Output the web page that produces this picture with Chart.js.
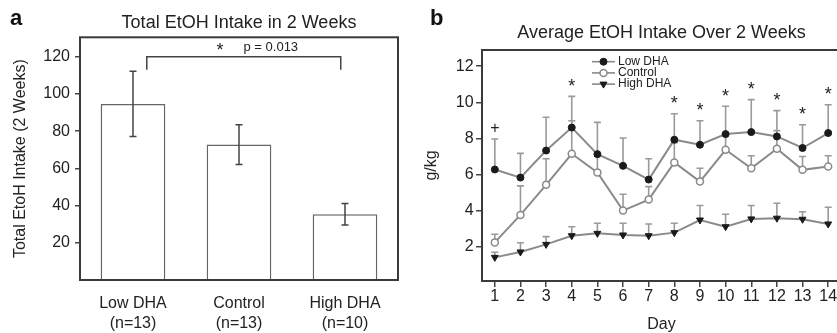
<!DOCTYPE html>
<html>
<head>
<meta charset="utf-8">
<script src="https://cdn.jsdelivr.net/npm/chart.js@4.4.1/dist/chart.umd.min.js"></script>
<style>
  html, body { margin: 0; padding: 0; background: #fff; overflow: hidden; }
  #wrap { position: relative; width: 837px; height: 333px; overflow: hidden; }
  canvas { position: absolute; top: 0; }
  #totalChart { left: 0; }
  #dailyChart { left: 420px; }
</style>
</head>
<body>
<div id="wrap">
  <canvas id="totalChart" width="420" height="333"></canvas>
  <canvas id="dailyChart" width="430" height="333"></canvas>
</div>
<script>
// panel a - total intake
const groups = [['Low DHA', '(n=13)'], ['Control', '(n=13)'], ['High DHA', '(n=10)']];
const totalIntake = [94.7, 72.8, 35.4];
const totalSem = [17.5, 10.7, 5.8];
const totalTicks = [20, 40, 60, 80, 100, 120];

// panel b - daily intake (g/kg)
const days = ['1', '2', '3', '4', '5', '6', '7', '8', '9', '10', '11', '12', '13', '14'];
const lowDha = [6.28, 5.83, 7.33, 8.6, 7.13, 6.48, 5.72, 7.93, 7.65, 8.24, 8.35, 8.11, 7.47, 8.3];
const lowDhaSem = [1.69, 1.34, 1.84, 1.73, 1.76, 1.54, 1.15, 1.44, 1.33, 1.54, 1.8, 1.43, 1.29, 1.57];
const control = [2.24, 3.76, 5.43, 7.15, 6.11, 4.0, 4.61, 6.67, 5.61, 7.37, 6.35, 7.43, 6.26, 6.44];
const controlSem = [0.45, 1.61, 1.44, 1.83, 0.9, 0.91, 0.72, 1.1, 0.74, 0.8, 0.69, 1.0, 0.74, 0.6];
const highDha = [1.41, 1.71, 2.13, 2.61, 2.74, 2.65, 2.61, 2.78, 3.48, 3.11, 3.54, 3.58, 3.52, 3.26];
const highDhaSem = [0.28, 0.51, 0.43, 0.5, 0.56, 0.65, 0.65, 0.52, 0.8, 0.69, 0.74, 0.83, 0.42, 0.93];
const dayMarks = ['+', '', '', '*', '', '', '', '*', '*', '*', '*', '*', '*', '*'];
const dailyTicks = [2, 4, 6, 8, 10, 12];

const pBracket = { from: 0.13, to: 1.96, level: 120, tip: 113, starAt: 0.82, label: 'p = 0.013', labelAt: 1.3 };

const FONT = "'Liberation Sans', Arial, sans-serif";
Chart.defaults.font.family = FONT;
Chart.defaults.color = '#222';
Chart.defaults.animation = false;

// box round the plot area
const frame = {
  id: 'frame',
  afterDatasetsDraw(chart) {
    const { ctx, chartArea: a } = chart;
    ctx.save();
    ctx.strokeStyle = '#3a3a3a';
    ctx.lineWidth = 2;
    ctx.strokeRect(a.left, a.top, a.right - a.left, a.bottom - a.top);
    ctx.restore();
  }
};

const panelLetter = {
  id: 'panelLetter',
  afterDraw(chart, args, opts) {
    const ctx = chart.ctx;
    ctx.save();
    ctx.font = 'bold 22px ' + FONT;
    ctx.fillStyle = '#111';
    ctx.textBaseline = 'alphabetic';
    ctx.fillText(opts.text, 10, 25);
    ctx.restore();
  }
};

const barErrors = {
  id: 'barErrors',
  afterDatasetsDraw(chart) {
    const { ctx, scales: { x, y } } = chart;
    ctx.save();
    ctx.strokeStyle = '#444';
    ctx.lineWidth = 1.5;
    totalIntake.forEach((v, i) => {
      const px = x.getPixelForValue(i);
      const hi = y.getPixelForValue(v + totalSem[i]);
      const lo = y.getPixelForValue(v - totalSem[i]);
      ctx.beginPath();
      ctx.moveTo(px, hi); ctx.lineTo(px, lo);
      ctx.moveTo(px - 3.5, hi); ctx.lineTo(px + 3.5, hi);
      ctx.moveTo(px - 3.5, lo); ctx.lineTo(px + 3.5, lo);
      ctx.stroke();
    });
    // significance bracket
    const x1 = x.getPixelForValue(pBracket.from), x2 = x.getPixelForValue(pBracket.to);
    const yl = y.getPixelForValue(pBracket.level), yt = y.getPixelForValue(pBracket.tip);
    ctx.beginPath();
    ctx.moveTo(x1, yt); ctx.lineTo(x1, yl); ctx.lineTo(x2, yl); ctx.lineTo(x2, yt);
    ctx.stroke();
    ctx.fillStyle = '#222';
    ctx.textAlign = 'center';
    ctx.textBaseline = 'middle';
    ctx.font = '18px ' + FONT;
    ctx.fillText('*', x.getPixelForValue(pBracket.starAt), yl - 6);
    ctx.font = '13px ' + FONT;
    ctx.fillText(pBracket.label, x.getPixelForValue(pBracket.labelAt), yl - 9.5);
    ctx.restore();
  }
};

const dailySem = [lowDhaSem, controlSem, highDhaSem];

const dayErrors = {
  id: 'dayErrors',
  beforeDatasetsDraw(chart) {
    const { ctx, scales: { x, y } } = chart;
    ctx.save();
    ctx.strokeStyle = '#9a9a9a';
    ctx.lineWidth = 1.6;
    chart.data.datasets.forEach((ds, k) => {
      ds.data.forEach((v, i) => {
        const px = x.getPixelForValue(i);
        const p0 = y.getPixelForValue(v);
        const p1 = y.getPixelForValue(v + dailySem[k][i]);
        ctx.beginPath();
        ctx.moveTo(px, p0); ctx.lineTo(px, p1);
        ctx.moveTo(px - 3.5, p1); ctx.lineTo(px + 3.5, p1);
        ctx.stroke();
      });
    });
    ctx.restore();
  },
  afterDatasetsDraw(chart) {
    const { ctx, scales: { x, y } } = chart;
    ctx.save();
    ctx.fillStyle = '#222';
    ctx.textAlign = 'center';
    ctx.textBaseline = 'middle';
    dayMarks.forEach((m, i) => {
      if (!m) return;
      ctx.font = (m === '+' ? '16px ' : '18px ') + FONT;
      ctx.fillText(m, x.getPixelForValue(i), y.getPixelForValue(lowDha[i] + lowDhaSem[i]) - (m === '+' ? 10 : 9.5));
    });
    ctx.restore();
  }
};

function drawMarker(ctx, ds, cx, cy) {
  ctx.save();
  ctx.fillStyle = ds.pointBackgroundColor;
  ctx.strokeStyle = ds.pointBorderColor;
  ctx.lineWidth = ds.pointBorderWidth;
  ctx.beginPath();
  if (ds.pointStyle === 'triangle') {
    const r = ds.pointRadius;
    ctx.moveTo(cx - r * 0.87, cy - r * 0.5);
    ctx.lineTo(cx + r * 0.87, cy - r * 0.5);
    ctx.lineTo(cx, cy + r);
    ctx.closePath();
  } else {
    ctx.arc(cx, cy, ds.pointRadius, 0, Math.PI * 2);
  }
  ctx.fill();
  ctx.stroke();
  ctx.restore();
}

const insideLegend = {
  id: 'insideLegend',
  afterDraw(chart) {
    const { ctx, chartArea: a } = chart;
    chart.data.datasets.forEach((ds, i) => {
      const yy = a.top + 11.7 + i * 11.2;
      const x0 = a.left + 110;
      ctx.save();
      ctx.strokeStyle = ds.borderColor;
      ctx.lineWidth = 1.6;
      ctx.beginPath();
      ctx.moveTo(x0, yy); ctx.lineTo(x0 + 23, yy);
      ctx.stroke();
      drawMarker(ctx, ds, x0 + 11.5, yy);
      ctx.fillStyle = '#222';
      ctx.font = '12px ' + FONT;
      ctx.textBaseline = 'middle';
      ctx.fillText(ds.label, x0 + 26, yy);
      ctx.restore();
    });
  }
};

new Chart(document.getElementById('totalChart'), {
  type: 'bar',
  data: {
    labels: groups,
    datasets: [{
      data: totalIntake,
      backgroundColor: '#fff',
      borderColor: '#666',
      borderWidth: 1.5,
      barPercentage: 1,
      categoryPercentage: 0.61
    }]
  },
  options: {
    responsive: false,
    devicePixelRatio: 1,
    layout: { padding: { left: 0, right: 22, top: 0, bottom: 0 } },
    plugins: {
      legend: { display: false },
      tooltip: { enabled: false },
      title: {
        display: true,
        text: 'Total EtOH Intake in 2 Weeks',
        font: { size: 18, weight: 'normal', lineHeight: 1.2 },
        color: '#222',
        padding: { top: 12.5, bottom: 3.2 },
        fullSize: false
      },
      panelLetter: { text: 'a' }
    },
    scales: {
      x: {
        grid: { display: false },
        border: { display: false },
        ticks: { font: { size: 16, lineHeight: 1.2 }, color: '#222', padding: 6.4 },
        afterFit(s) { s.height = 53; }
      },
      y: {
        min: 0,
        max: 130.5,
        afterBuildTicks(s) { s.ticks = totalTicks.map(v => ({ value: v })); },
        grid: { drawOnChartArea: false, drawTicks: true, tickLength: 5, color: '#444', lineWidth: 1.5 },
        border: { display: false },
        ticks: { font: { size: 16 }, color: '#222', padding: 5 },
        title: {
          display: true,
          text: 'Total EtoH Intake (2 Weeks)',
          font: { size: 16, lineHeight: 1.2 },
          color: '#222',
          padding: { top: 11.4, bottom: 0 }
        },
        afterFit(s) { s.width = 80; }
      }
    }
  },
  plugins: [barErrors, frame, panelLetter]
});

new Chart(document.getElementById('dailyChart'), {
  type: 'line',
  data: {
    labels: days,
    datasets: [
      {
        label: 'Low DHA',
        data: lowDha,
        borderColor: '#8a8a8a',
        borderWidth: 2,
        pointStyle: 'circle',
        pointRadius: 3.5,
        pointBackgroundColor: '#1a1a1a',
        pointBorderColor: '#1a1a1a',
        pointBorderWidth: 1
      },
      {
        label: 'Control',
        data: control,
        borderColor: '#8a8a8a',
        borderWidth: 2,
        pointStyle: 'circle',
        pointRadius: 3.5,
        pointBackgroundColor: '#fff',
        pointBorderColor: '#8a8a8a',
        pointBorderWidth: 1.5
      },
      {
        label: 'High DHA',
        data: highDha,
        borderColor: '#8a8a8a',
        borderWidth: 2,
        pointStyle: 'triangle',
        pointRotation: 180,
        pointRadius: 4,
        pointBackgroundColor: '#1a1a1a',
        pointBorderColor: '#1a1a1a',
        pointBorderWidth: 1
      }
    ]
  },
  options: {
    responsive: false,
    devicePixelRatio: 1,
    layout: { padding: { left: 0, right: 9, top: 0, bottom: 0 } },
    elements: { line: { tension: 0 } },
    plugins: {
      legend: { display: false },
      tooltip: { enabled: false },
      title: {
        display: true,
        text: 'Average EtOH Intake Over 2 Weeks',
        font: { size: 18, weight: 'normal', lineHeight: 1.2 },
        color: '#222',
        padding: { top: 22.5, bottom: 5.9 },
        fullSize: false
      },
      panelLetter: { text: 'b' }
    },
    scales: {
      x: {
        offset: true,
        grid: { offset: false, drawOnChartArea: false, drawTicks: true, tickLength: 6, color: '#444', lineWidth: 1.5 },
        border: { display: false },
        ticks: { font: { size: 16, lineHeight: 1.2 }, color: '#222', padding: 0, autoSkip: false, maxRotation: 0 },
        title: {
          display: true,
          text: 'Day',
          font: { size: 16, lineHeight: 1 },
          color: '#222',
          padding: { top: 0, bottom: 0 }
        },
        afterFit(s) { s.height = 52; }
      },
      y: {
        min: 0.1,
        max: 12.9,
        afterBuildTicks(s) { s.ticks = dailyTicks.map(v => ({ value: v })); },
        grid: { drawOnChartArea: false, drawTicks: true, tickLength: 6, color: '#444', lineWidth: 1.5 },
        border: { display: false },
        ticks: { font: { size: 16 }, color: '#222', padding: 2.4 },
        title: {
          display: true,
          text: 'g/kg',
          font: { size: 16, lineHeight: 1.2 },
          color: '#222',
          padding: { top: 2.4, bottom: 0 }
        },
        afterFit(s) { s.width = 62; }
      }
    }
  },
  plugins: [dayErrors, frame, insideLegend, panelLetter]
});
</script>
</body>
</html>
